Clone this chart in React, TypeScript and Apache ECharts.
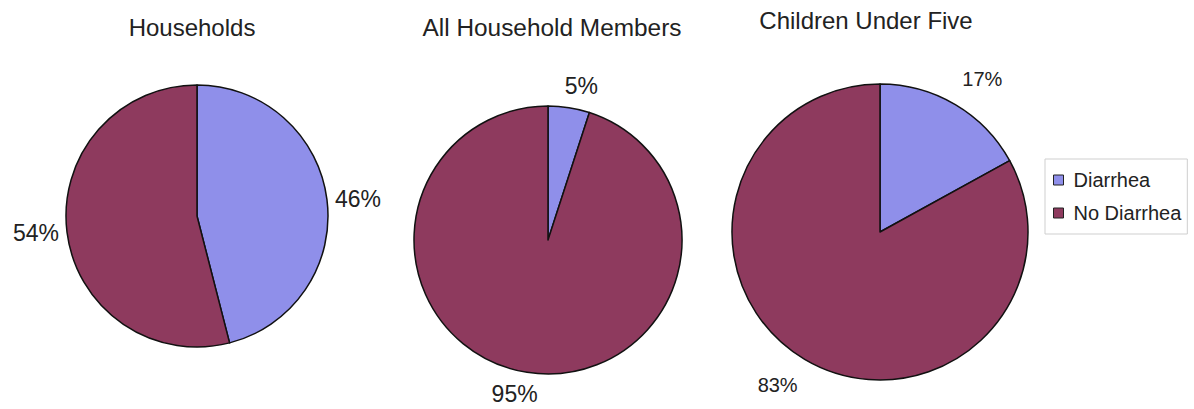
import React, { useEffect, useRef } from "react";
import * as echarts from "echarts";

const categories = ["Diarrhea", "No Diarrhea"];
const titles = ["Households", "All Household Members", "Children Under Five"];
const householdsValues = [46, 54];
const membersValues = [5, 95];
const childrenValues = [17, 83];
const allValues = [householdsValues, membersValues, childrenValues];

const COLORS = ["#8f8fea", "#8e3a5e"];
const FONT = "'Liberation Sans', Arial, sans-serif";
const TEXT = "#222222";

// layout (pixels / degrees)
const pies = [
  { cx: 197, cy: 216, r: 131, labelDist: 162, labelRot: 1, labelSize: 23, titleX: 192, titleY: 27, titleSize: 24 },
  { cx: 548, cy: 240, r: 134, labelDist: 158, labelRot: 3.2, labelSize: 23, titleX: 552, titleY: 27, titleSize: 24.4 },
  { cx: 880, cy: 232, r: 148, labelDist: 184, labelRot: 3.2, labelSize: 20, titleX: 866, titleY: 20, titleSize: 24 },
];

export default function App() {
  const ref = useRef<HTMLDivElement>(null);
  useEffect(() => {
    if (!ref.current) return;
    const chart = echarts.init(ref.current, null, { renderer: "svg" });
    const series = allValues.map((vals, si) => {
      const p = pies[si];
      const total = vals.reduce((a, b) => a + b, 0);
      return {
        type: "pie",
        center: [p.cx, p.cy],
        radius: p.r,
        startAngle: 90,
        clockwise: true,
        avoidLabelOverlap: false,
        data: vals.map((v, i) => ({ name: categories[i], value: v })),
        itemStyle: { borderColor: "#111", borderWidth: 1.5 },
        label: {
          show: true,
          position: "outside",
          formatter: "{c}%",
          fontSize: p.labelSize,
          fontFamily: FONT,
          color: TEXT,
        },
        labelLine: { show: false },
        labelLayout: (params: any) => {
          const di = params.dataIndex;
          let before = 0;
          for (let k = 0; k < di; k++) before += vals[k];
          const mid = ((before + vals[di] / 2) / total) * Math.PI * 2 + (p.labelRot * Math.PI) / 180;
          return {
            x: p.cx + p.labelDist * Math.sin(mid),
            y: p.cy - p.labelDist * Math.cos(mid),
            align: "center",
            verticalAlign: "middle",
          };
        },
        emphasis: { disabled: true },
      };
    });
    chart.setOption({
      animation: false,
      color: COLORS,
      legend: {
        orient: "vertical",
        left: 1045,
        top: 159,
        data: categories,
        icon: "rect",
        itemWidth: 10,
        itemHeight: 10,
        itemGap: 13,
        padding: [11, 6, 11, 8],
        borderColor: "#cfcfcf",
        borderWidth: 1,
        itemStyle: { borderColor: "#222", borderWidth: 1 },
        textStyle: { fontSize: 20, lineHeight: 20, fontFamily: FONT, color: TEXT, padding: [0, 0, 0, 5] },
        selectedMode: false,
      },
      graphic: titles.map((t, i) => ({
        type: "text",
        x: pies[i].titleX,
        y: pies[i].titleY,
        style: {
          text: t,
          fontSize: pies[i].titleSize,
          fontFamily: FONT,
          fill: TEXT,
          align: "center",
          verticalAlign: "middle",
        },
      })),
      series,
    });
    return () => chart.dispose();
  }, []);
  return (
    <div
      ref={ref}
      style={{ position: "absolute", left: 0, top: 0, width: 1194, height: 409, background: "#fff" }}
    />
  );
}
